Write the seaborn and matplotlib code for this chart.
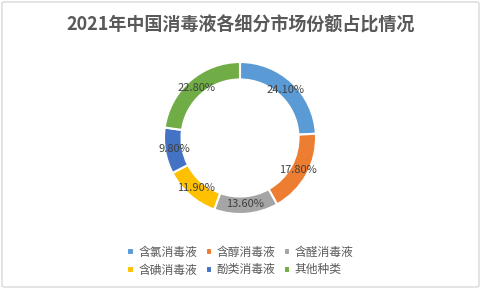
import seaborn as sns
import matplotlib
matplotlib.use("Agg")
import matplotlib.pyplot as plt
from matplotlib.patches import FancyBboxPatch

categories = ["含氯消毒液", "含醇消毒液", "含醛消毒液", "含碘消毒液", "酚类消毒液", "其他种类"]
shares = [24.10, 17.80, 13.60, 11.90, 9.80, 22.80]
colors = ["#5B9BD5", "#ED7D31", "#A5A5A5", "#FFC000", "#4472C4", "#70AD47"]
title = "2021年中国消毒液各细分市场份额占比情况"

sns.set_style("white")
plt.rcParams['font.family'] = ['Noto Sans CJK SC', 'DejaVu Sans']

W, H = 481, 289
fig = plt.figure(figsize=(W / 100, H / 100), dpi=100)
fig.patch.set_facecolor("white")

# light rounded frame like the excel chart area
frame = FancyBboxPatch((2 / W, 2 / H), 1 - 4 / W, 1 - 4 / H,
                       boxstyle="round,pad=0,rounding_size=0.005",
                       transform=fig.transFigure, fill=False,
                       edgecolor="#D9D9D9", linewidth=1)
fig.patches.append(frame)

cx, cy, r = 240, 138, 76
ax = fig.add_axes([(cx - r) / W, (H - cy - r) / H, 2 * r / W, 2 * r / H])
pal = sns.color_palette(colors)
wedges, texts, autotexts = ax.pie(
    shares, colors=pal, startangle=90, counterclock=False, radius=1,
    autopct=lambda p: f"{p:.2f}%", pctdistance=0.87,
    wedgeprops=dict(width=0.23, edgecolor="white", linewidth=1.5),
    textprops=dict(fontsize=8, color="#404040"))
ax.set_xlim(-1, 1)
ax.set_ylim(-1, 1)
ax.set_aspect("equal")
ax.axis("off")

fig.text(0.5, 1 - 25 / H, title, ha="center", va="center",
         fontsize=13, fontweight="bold", color="#595959")

# legend fills column by column, so reorder to read row by row
order = [0, 3, 1, 4, 2, 5]
fig.legend([wedges[i] for i in order], [categories[i] for i in order],
           loc="center", bbox_to_anchor=(0.5, 1 - 261 / H),
           ncol=3, frameon=False, fontsize=8.5, labelcolor="#595959",
           handlelength=0.55, handleheight=0.55, handletextpad=0.4,
           columnspacing=0.7, labelspacing=0.4)

fig.savefig("out.png", dpi=100)
